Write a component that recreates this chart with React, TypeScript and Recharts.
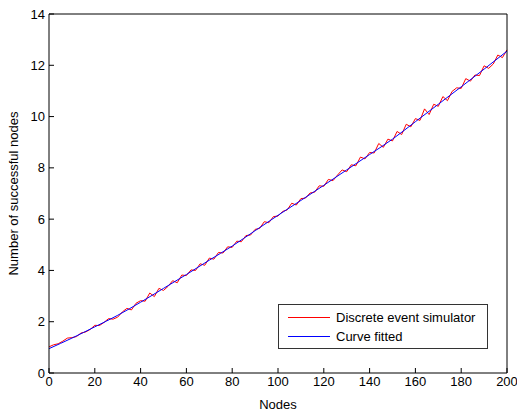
import { LineChart, Line, XAxis, YAxis } from 'recharts';

const simNodes = [
  0, 2, 4, 6, 8, 10, 12, 14, 16, 18, 20, 22, 24, 26, 28, 30, 32, 34, 36, 38, 40,
  42, 44, 46, 48, 50, 52, 54, 56, 58, 60, 62, 64, 66, 68, 70, 72, 74, 76, 78, 80,
  82, 84, 86, 88, 90, 92, 94, 96, 98, 100, 102, 104, 106, 108, 110, 112, 114, 116, 118, 120,
  122, 124, 126, 128, 130, 132, 134, 136, 138, 140, 142, 144, 146, 148, 150, 152, 154, 156, 158, 160,
  162, 164, 166, 168, 170, 172, 174, 176, 178, 180, 182, 184, 186, 188, 190, 192, 194, 196, 198, 200,
];
const simValues = [
  1.02, 1.1, 1.14, 1.24, 1.36, 1.38, 1.42, 1.56, 1.6, 1.7, 1.86, 1.85, 1.97, 2.12, 2.1, 2.18, 2.38, 2.52, 2.46, 2.72, 2.82,
  2.8, 3.12, 2.98, 3.3, 3.22, 3.38, 3.6, 3.52, 3.82, 3.8, 4.02, 4.0, 4.26, 4.2, 4.48, 4.44, 4.7, 4.68, 4.92, 4.9,
  5.14, 5.12, 5.36, 5.38, 5.6, 5.64, 5.9, 5.86, 6.1, 6.12, 6.3, 6.36, 6.62, 6.55, 6.8, 6.82, 7.02, 7.05, 7.3, 7.28,
  7.55, 7.5, 7.72, 7.92, 7.85, 8.12, 8.08, 8.42, 8.35, 8.6, 8.58, 8.95, 8.8, 9.12, 9.05, 9.42, 9.3, 9.7, 9.6, 9.92,
  9.85, 10.3, 10.08, 10.48, 10.4, 10.78, 10.62, 10.98, 11.12, 11.1, 11.48, 11.38, 11.62, 11.6, 11.98, 11.88, 12.05, 12.4, 12.3, 12.6,
];

const fitNodes = [0, 10, 20, 30, 40, 50, 60, 70, 80, 90, 100, 110, 120, 130, 140, 150, 160, 170, 180, 190, 200];
const fitValues = [
  0.95, 1.36, 1.8, 2.25, 2.76, 3.3, 3.84, 4.4, 4.95, 5.55, 6.15, 6.73, 7.32, 7.92, 8.52, 9.12, 9.8, 10.48, 11.16, 11.85, 12.55,
];

const xTicks = [0, 20, 40, 60, 80, 100, 120, 140, 160, 180, 200];
const yTicks = [0, 2, 4, 6, 8, 10, 12, 14];

const simData = simNodes.map((node, i) => ({ node, value: simValues[i] }));
const fitData = fitNodes.map((node, i) => ({ node, value: fitValues[i] }));

const font = '"Liberation Sans", Arial, sans-serif';
const fontSize = 13;
const tickStyle = { fontSize, fill: '#000', fontFamily: font };

const YLabel = (props: any) => {
  const vb = props.viewBox || { x: 0, y: 14, width: 49, height: 359 };
  const x = vb.x + 13;
  const y = vb.y + vb.height / 2;
  return (
    <text
      x={x}
      y={y}
      transform={`rotate(-90, ${x}, ${y})`}
      textAnchor="middle"
      dominantBaseline="central"
      fontSize={fontSize}
      fontFamily={font}
      fill="#000"
    >
      Number of successful nodes
    </text>
  );
};

export default function App() {
  return (
    <div style={{ position: 'absolute', left: 0, top: 0, width: 517, height: 412, background: '#fff' }}>
      <LineChart width={517} height={412} data={simData} margin={{ top: 13, right: 9, bottom: 0, left: 0 }}>
        <XAxis
          xAxisId="bottom"
          dataKey="node"
          type="number"
          domain={[0, 200]}
          ticks={xTicks}
          height={39}
          tickSize={-5}
          tickMargin={9}
          tick={tickStyle}
          stroke="#000"
          interval={0}
          label={{ value: 'Nodes', position: 'insideBottom', offset: 3, fontSize, fill: '#000', fontFamily: font }}
        />
        <XAxis
          xAxisId="top"
          orientation="top"
          dataKey="node"
          type="number"
          domain={[0, 200]}
          ticks={xTicks}
          height={1}
          tickSize={-5}
          tick={false}
          stroke="#000"
          interval={0}
        />
        <YAxis
          yAxisId="left"
          type="number"
          domain={[0, 14]}
          ticks={yTicks}
          width={49}
          tickSize={-5}
          tickMargin={9}
          tick={tickStyle}
          stroke="#000"
          interval={0}
          label={<YLabel />}
        />
        <YAxis
          yAxisId="right"
          orientation="right"
          type="number"
          domain={[0, 14]}
          ticks={yTicks}
          width={1}
          tickSize={-5}
          tick={false}
          stroke="#000"
          interval={0}
        />
        {/* hidden series so the top and right axes are drawn (box) */}
        <Line
          xAxisId="top"
          yAxisId="right"
          data={fitData}
          dataKey="value"
          stroke="none"
          dot={false}
          legendType="none"
          isAnimationActive={false}
        />
        <Line
          xAxisId="bottom"
          yAxisId="left"
          data={simData}
          dataKey="value"
          type="linear"
          stroke="#ff0000"
          strokeWidth={1}
          dot={false}
          isAnimationActive={false}
        />
        <Line
          xAxisId="bottom"
          yAxisId="left"
          data={fitData}
          dataKey="value"
          type="monotone"
          stroke="#0000ff"
          strokeWidth={1}
          dot={false}
          isAnimationActive={false}
        />
      </LineChart>
      <div
        style={{
          position: 'absolute',
          left: 278,
          top: 304,
          width: 208,
          height: 43,
          border: '1px solid #333',
          background: '#fff',
          fontFamily: font,
          fontSize,
          color: '#000',
          boxSizing: 'content-box',
        }}
      >
        {[
          { name: 'Discrete event simulator', color: '#ff0000', top: 5 },
          { name: 'Curve fitted', color: '#0000ff', top: 24 },
        ].map((item) => (
          <div key={item.name} style={{ position: 'absolute', left: 9, top: item.top, display: 'flex', alignItems: 'center', height: 15 }}>
            <span style={{ display: 'inline-block', width: 42, height: 1, background: item.color, marginRight: 6 }} />
            <span style={{ lineHeight: '15px', whiteSpace: 'nowrap' }}>{item.name}</span>
          </div>
        ))}
      </div>
    </div>
  );
}
